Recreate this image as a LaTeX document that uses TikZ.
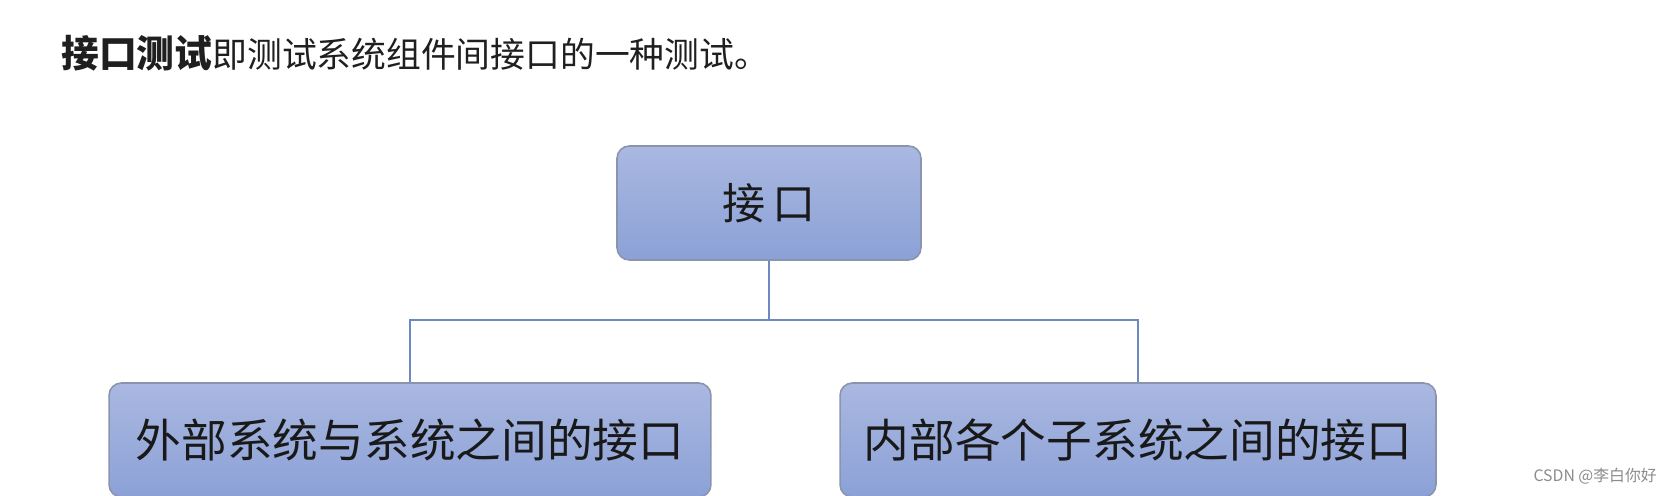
\documentclass[tikz,border=0pt]{standalone}
\usepackage{fontspec}
\newfontfamily\cjk{Noto Sans CJK SC}
\definecolor{boxtop}{HTML}{AAB8E1}
\definecolor{boxbot}{HTML}{8BA1D6}
\definecolor{boxline}{HTML}{8A94AE}
\definecolor{linkblue}{HTML}{6E89BF}
\tikzset{
  cell/.style={draw=boxline, line width=0.9pt, rounded corners=7pt,
    top color=boxtop, bottom color=boxbot, minimum height=2.28cm,
    font=\cjk, text=black!90, inner sep=0pt},
  link/.style={linkblue, line width=1.1pt}
}
\begin{document}
\begin{tikzpicture}[x=0.02cm, y=-0.02cm]
  % page frame in pixel units of the source
  \clip (0,0) rectangle (1673,495);
  \fill[white] (0,0) rectangle (1673,495);
  % heading line
  \node[font=\cjk\fontsize{19.8}{24}\selectfont, text=black!88, anchor=west, inner sep=0pt]
    (title) at (61,53) {{\fontsize{21.5}{24}\selectfont\bfseries 接口测试}即测试系统组件间接口的一种测试。};
  % boxes
  \node[cell, minimum width=6.08cm, font=\cjk\fontsize{24.5}{28}\selectfont] (top) at (769,203) {接\,口};
  \node[cell, minimum width=12.04cm, font=\cjk\fontsize{26}{30}\selectfont] (ext) at (410,440) {外部系统与系统之间的接口};
  \node[cell, minimum width=11.92cm, font=\cjk\fontsize{26}{30}\selectfont] (int) at (1138,440) {内部各个子系统之间的接口};
  % tree connector
  \coordinate (fork) at (769,320);
  \draw[link] (top.south) -- (fork);
  \draw[link] (ext.north) |- (fork) -| (int.north);
  % watermark
  \node[font=\cjk\fontsize{9}{10}\selectfont, text=black!45, anchor=east, inner sep=0pt]
    (mark) at (1657,476) {CSDN @李白你好};
\end{tikzpicture}
\end{document}
